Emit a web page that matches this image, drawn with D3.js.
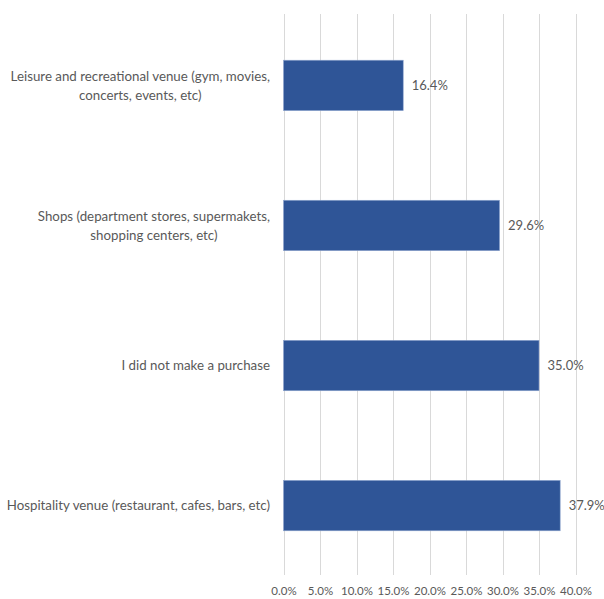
<!DOCTYPE html>
<html>
<head>
<meta charset="utf-8">
<script src="https://cdn.jsdelivr.net/npm/d3@7"></script>
<style>
  html, body { margin: 0; padding: 0; background: #fff; }
  svg text { font-family: Lato, "Open Sans", sans-serif; fill: #595959; }
</style>
</head>
<body>
<svg id="chart" width="604" height="599"></svg>
<script>
// Where respondents made a purchase (share of respondents)
const categories = [
  ["Leisure and recreational venue (gym, movies,", "concerts, events, etc)"],
  ["Shops (department stores, supermakets,", "shopping centers, etc)"],
  ["I did not make a purchase"],
  ["Hospitality venue (restaurant, cafes, bars, etc)"]
];
const values = [16.4, 29.6, 35.0, 37.9];
const tickValues = [0, 5, 10, 15, 20, 25, 30, 35, 40];

const svg = d3.select("#chart");
const width = 604, height = 599;
const plotTop = 14, gridBottom = 575;

const x = d3.scaleLinear().domain([0, 40]).range([283.5, 575.5]);
const y = d3.scaleBand()
  .domain(d3.range(categories.length))
  .range([plotTop, 577])
  .paddingInner(0.64).paddingOuter(0.33);

// vertical gridlines
svg.append("g").selectAll("line").data(tickValues).join("line")
  .attr("x1", d => Math.round(x(d)) + 0.5).attr("x2", d => Math.round(x(d)) + 0.5)
  .attr("y1", plotTop).attr("y2", gridBottom)
  .attr("stroke", "#d9d9d9").attr("stroke-width", 1);

// x axis tick labels
const xAxis = d3.axisBottom(x).tickValues(tickValues).tickSize(0).tickPadding(0)
  .tickFormat(d => d.toFixed(1) + "%");
const gx = svg.append("g").attr("transform", "translate(0, 591)").call(xAxis);
gx.select(".domain").remove();
gx.selectAll("text").attr("font-size", "11.5px").attr("dy", "0.35em")
  .style("font-family", "Lato, sans-serif").attr("fill", "#595959");

// bars
svg.append("g").selectAll("rect").data(values).join("rect")
  .attr("x", x(0))
  .attr("y", (d, i) => y(i))
  .attr("width", d => x(d) - x(0))
  .attr("height", y.bandwidth())
  .attr("fill", "#2f5597")
  .attr("stroke", "#8fa6cf").attr("stroke-width", 0.6);

// value labels
svg.append("g").selectAll("text").data(values).join("text")
  .attr("x", d => x(d) + 8.5)
  .attr("y", (d, i) => y(i) + y.bandwidth() / 2)
  .attr("dy", "0.35em")
  .attr("font-size", "13px")
  .text(d => d.toFixed(1) + "%");

// category labels: block right-aligned against the axis, lines centered within it
const labelRight = 270;
const lineH = 19;
const lg = svg.append("g");
categories.forEach((lines, i) => {
  const cy = y(i) + y.bandwidth() / 2;
  const g = lg.append("g");
  const texts = lines.map((ln, k) => g.append("text")
    .attr("font-size", "13.3px")
    .attr("text-anchor", "middle")
    .attr("dy", "0.35em")
    .attr("y", cy + (k - (lines.length - 1) / 2) * lineH)
    .text(ln));
  const maxW = d3.max(texts, t => t.node().getComputedTextLength());
  texts.forEach(t => t.attr("x", labelRight - maxW / 2));
});
</script>
</body>
</html>
